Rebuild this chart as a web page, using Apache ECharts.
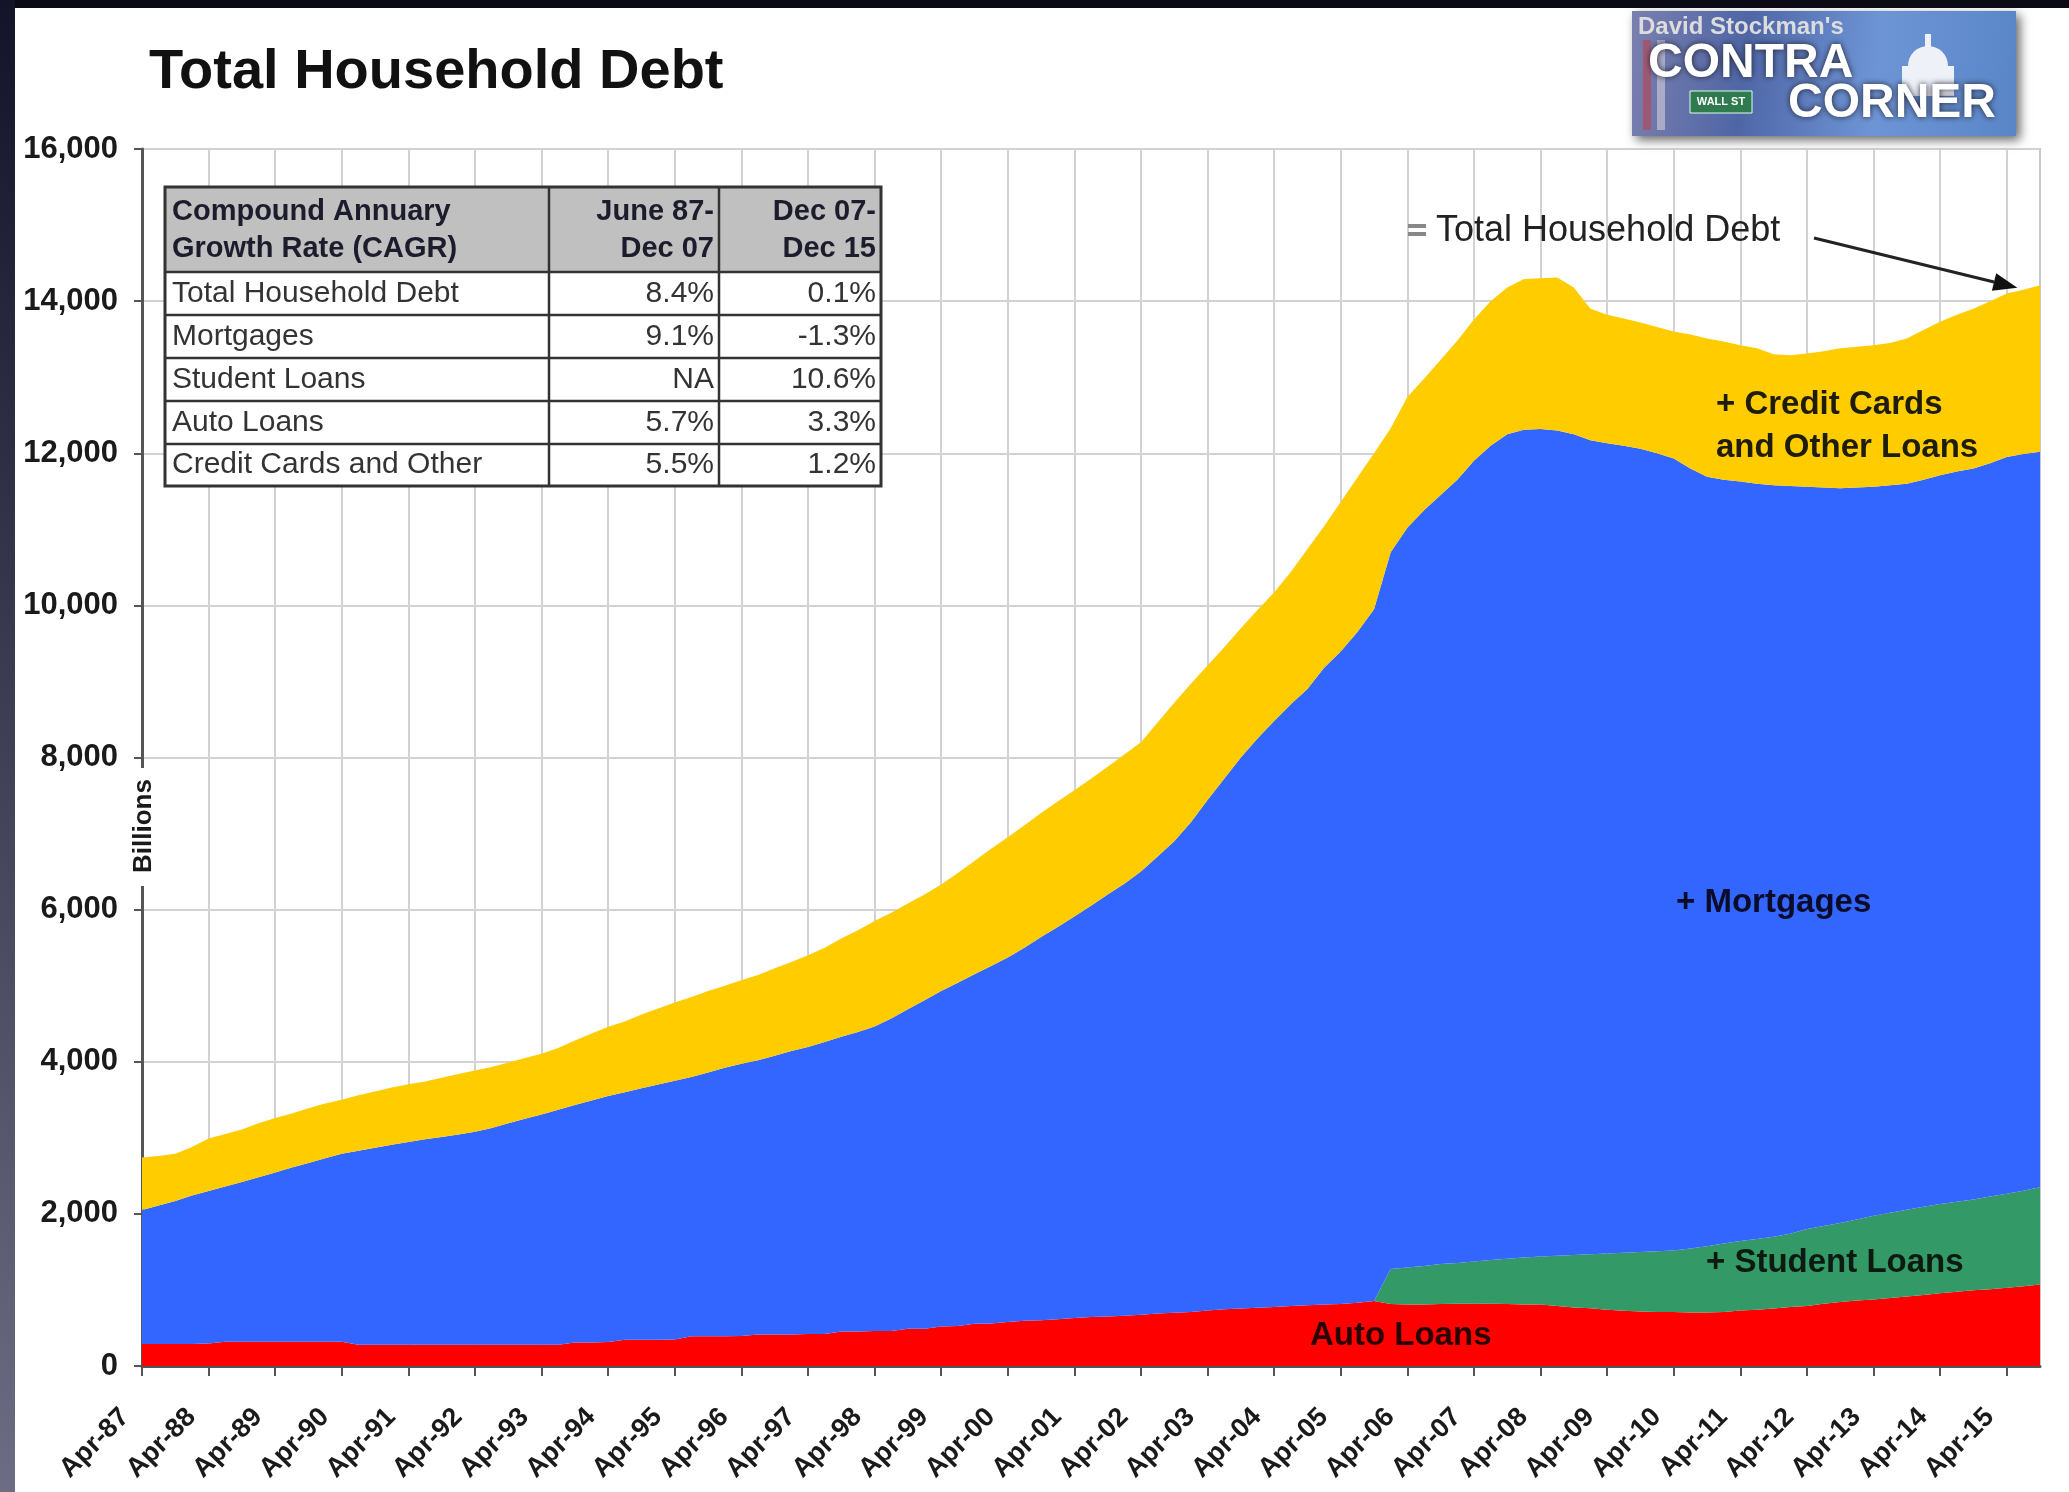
<!DOCTYPE html>
<html>
<head>
<meta charset="utf-8">
<title>Total Household Debt</title>
<script src="https://cdn.jsdelivr.net/npm/echarts@6/dist/echarts.min.js"></script>
<style>
  html, body { margin: 0; padding: 0; background: #fff; }
  #chart { width: 2069px; height: 1492px; }
</style>
</head>
<body>
<div id="chart"></div>
<script>
// quarterly points, Apr-87 .. Oct-15, billions of dollars
var quarterMonths = ['Apr', 'Jul', 'Oct', 'Jan'];
var categories = [];
for (var i = 0; i < 115; i++) {
  var q = i % 4;
  var yr = 1987 + Math.floor(i / 4) + (q === 3 ? 1 : 0);
  categories.push(quarterMonths[q] + '-' + String(yr).slice(2));
}

var autoLoans = [
  290, 290, 290, 290,   295, 320, 320, 320,   320, 320, 320, 320,   320, 280, 280, 280,
  280, 280, 280, 280,   280, 280, 280, 280,   280, 280, 310, 310,   315, 345, 345, 345,
  350, 390, 390, 390,   395, 415, 415, 415,   420, 420, 455, 455,   460, 460, 490, 490,
  520, 525, 555, 560,   580, 595, 600, 615,   630, 645, 650, 660,   675, 690, 700, 710,
  730, 745, 755, 765,   775, 790, 800, 810,   815, 830, 855, 815,   810, 810, 815, 820,
  820, 820, 815, 810,   810, 790, 770, 760,   740, 725, 715, 710,   710, 705, 705, 710,
  730, 740, 755, 775,   790, 820, 840, 860,   875, 895, 915, 935,   955, 975, 995, 1010,
  1030, 1050, 1070
];

var studentLoans = [
  0, 0, 0, 0,   0, 0, 0, 0,   0, 0, 0, 0,   0, 0, 0, 0,
  0, 0, 0, 0,   0, 0, 0, 0,   0, 0, 0, 0,   0, 0, 0, 0,
  0, 0, 0, 0,   0, 0, 0, 0,   0, 0, 0, 0,   0, 0, 0, 0,
  0, 0, 0, 0,   0, 0, 0, 0,   0, 0, 0, 0,   0, 0, 0, 0,
  0, 0, 0, 0,   0, 0, 0, 0,   0, 0, 0, 460,   485, 505, 525, 535,
  555, 575, 595, 615,   630, 660, 690, 710,   740, 765, 785, 800,   810, 840, 870, 900,
  915, 930, 945, 965,   1010, 1020, 1040, 1065,   1100, 1120, 1140, 1160,   1175, 1185, 1195, 1220,
  1235, 1255, 1280
];

var mortgages = [
  1760, 1820, 1880, 1950,   2005, 2040, 2100, 2160,   2225, 2290, 2350, 2410,   2470, 2550, 2590, 2630,
  2665, 2700, 2730, 2765,   2800, 2850, 2910, 2970,   3025, 3090, 3120, 3180,   3235, 3255, 3305, 3355,
  3400, 3410, 3470, 3530,   3580, 3605, 3665, 3725,   3775, 3840, 3875, 3935,   4005, 4110, 4200, 4320,
  4410, 4515, 4595, 4700,   4790, 4905, 5040, 5155,   5280, 5405, 5550, 5680,   5825, 6010, 6200, 6440,
  6710, 6975, 7245, 7485,   7705, 7910, 8100, 8370,   8580, 8820, 9095, 9425,   9725, 9935, 10110, 10295,
  10525, 10705, 10840, 10885,   10880, 10850, 10790, 10700,   10650, 10610, 10560, 10490,   10410, 10255, 10115, 10040,
  9985, 9930, 9880, 9830,   9760, 9710, 9660, 9625,   9585, 9565, 9545, 9555,   9580, 9600, 9610, 9640,
  9685, 9685, 9670
];

var creditCardsOther = [
  690, 650, 620, 640,   690, 690, 690, 710,   715, 710, 720, 720,   710, 730, 740, 750,
  760, 760, 780, 795,   805, 800, 800, 800,   800, 810, 850, 880,   910, 930, 970, 1000,
  1030, 1050, 1070, 1080,   1095, 1120, 1150, 1170,   1205, 1240, 1290, 1340,   1385, 1390, 1390, 1390,
  1400, 1440, 1490, 1540,   1580, 1610, 1630, 1650,   1660, 1670, 1680, 1700,   1700, 1760, 1820, 1820,
  1770, 1730, 1700, 1690,   1690, 1740, 1840, 1860,   1965, 2030, 2050, 1630,   1720, 1730, 1780, 1830,
  1860, 1900, 1930, 1980,   1980, 2010, 1930, 1730,   1690, 1670, 1660, 1660,   1670, 1760, 1820, 1820,
  1790, 1780, 1720, 1720,   1750, 1790, 1840, 1850,   1860, 1870, 1910, 1970,   2020, 2060, 2100, 2130,
  2150, 2160, 2190
];

// CAGR table
var cagrHeader = [['Compound Annuary', 'Growth Rate (CAGR)'], ['June 87-', 'Dec 07'], ['Dec 07-', 'Dec 15']];
var cagrRows = ['Total Household Debt', 'Mortgages', 'Student Loans', 'Auto Loans', 'Credit Cards and Other'];
var cagrEarly = ['8.4%', '9.1%', 'NA', '5.7%', '5.5%'];
var cagrLate = ['0.1%', '-1.3%', '10.6%', '3.3%', '1.2%'];

var FONT = '"Liberation Sans", Arial, sans-serif';
var yearTick = function (idx) { return idx % 4 === 0; };

var chart = echarts.init(document.getElementById('chart'));

function areaSeries(name, data, color) {
  return {
    name: name,
    type: 'line',
    stack: 'debt',
    data: data,
    symbol: 'none',
    silent: true,
    lineStyle: { width: 0 },
    areaStyle: { color: color, opacity: 1 }
  };
}

chart.setOption({
  animation: false,
  backgroundColor: '#fff',
  grid: {
    left: 142, right: 29, top: 149, bottom: 126,
    show: true, borderColor: '#c8c8c8', borderWidth: 2,
    outerBoundsMode: 'none'
  },
  xAxis: {
    type: 'category',
    data: categories,
    boundaryGap: false,
    axisLine: { lineStyle: { color: '#555', width: 3 } },
    axisTick: { interval: yearTick, length: 10, lineStyle: { color: '#555', width: 2 } },
    axisLabel: {
      interval: yearTick, rotate: 45, margin: 30, padding: [0, 24, 0, 0],
      fontFamily: FONT, fontSize: 27, fontWeight: 'bold', color: '#1a1a1a'
    },
    splitLine: { show: true, interval: yearTick, lineStyle: { color: '#d2d2d2', width: 2 } }
  },
  yAxis: {
    type: 'value',
    min: 0, max: 16000, interval: 2000,
    axisLine: { show: true, lineStyle: { color: '#555', width: 3 } },
    axisTick: { show: true, length: 8, lineStyle: { color: '#555', width: 2 } },
    axisLabel: {
      margin: 24, fontFamily: FONT, fontSize: 31, fontWeight: 'bold', color: '#1a1a1a',
      formatter: function (v) { return v.toLocaleString('en-US'); }
    },
    splitLine: { show: true, lineStyle: { color: '#d2d2d2', width: 2 } }
  },
  series: [
    areaSeries('Auto Loans', autoLoans, '#ff0000'),
    areaSeries('Student Loans', studentLoans, '#339966'),
    areaSeries('Mortgages', mortgages, '#3366ff'),
    areaSeries('Credit Cards and Other Loans', creditCardsOther, '#ffcc00')
  ]
});

function txt(x, y, s, size, opt) {
  opt = opt || {};
  return {
    type: 'text', x: x, y: y, z: 100, rotation: opt.rotation || 0,
    style: {
      text: s, x: 0, y: 0,
      font: (opt.weight || 'normal') + ' ' + size + 'px ' + FONT,
      fill: opt.color || '#1a1a1a',
      align: opt.align || 'left',
      verticalAlign: 'middle',
      textShadowBlur: opt.shadow ? 6 : 0,
      textShadowColor: opt.shadow || 'transparent'
    }
  };
}
function rect(x, y, w, h, style) {
  return { type: 'rect', z: 99, shape: { x: x, y: y, width: w, height: h }, style: style };
}
function line(x1, y1, x2, y2, color, width) {
  return { type: 'line', z: 101, shape: { x1: x1, y1: y1, x2: x2, y2: y2 }, style: { stroke: color, lineWidth: width } };
}

var g = [];

// title
g.push(txt(149, 73, 'Total Household Debt', 56, { weight: 'bold', color: '#111' }));

// CAGR table
var tX = [165, 549, 719, 881];
var tY = [187, 272, 315, 358, 401, 444, 486];
g.push(rect(tX[0], tY[0], tX[3] - tX[0], tY[1] - tY[0], { fill: '#c0c0c0' }));
g.push(rect(tX[0], tY[1], tX[3] - tX[0], tY[6] - tY[1], { fill: '#fff' }));
for (var r = 1; r < 6; r++) g.push(line(tX[0], tY[r], tX[3], tY[r], '#333', 2.5));
g.push(line(tX[1], tY[0], tX[1], tY[6], '#333', 2.5));
g.push(line(tX[2], tY[0], tX[2], tY[6], '#333', 2.5));
g.push({ type: 'rect', z: 101, shape: { x: tX[0], y: tY[0], width: tX[3] - tX[0], height: tY[6] - tY[0] },
  style: { fill: 'none', stroke: '#333', lineWidth: 3 } });
var hdr = { weight: 'bold', color: '#1c1c2c' };
g.push(txt(172, 212, cagrHeader[0][0], 29, hdr));
g.push(txt(172, 249, cagrHeader[0][1], 29, hdr));
g.push(txt(714, 212, cagrHeader[1][0], 29, { weight: 'bold', color: '#1c1c2c', align: 'right' }));
g.push(txt(714, 249, cagrHeader[1][1], 29, { weight: 'bold', color: '#1c1c2c', align: 'right' }));
g.push(txt(876, 212, cagrHeader[2][0], 29, { weight: 'bold', color: '#1c1c2c', align: 'right' }));
g.push(txt(876, 249, cagrHeader[2][1], 29, { weight: 'bold', color: '#1c1c2c', align: 'right' }));
cagrRows.forEach(function (name, k) {
  var cy = (tY[k + 1] + tY[k + 2]) / 2;
  g.push(txt(172, cy, name, 30, { color: '#333' }));
  g.push(txt(714, cy, cagrEarly[k], 30, { color: '#333', align: 'right' }));
  g.push(txt(876, cy, cagrLate[k], 30, { color: '#333', align: 'right' }));
});

// axis unit
g.push(rect(131, 768, 26, 118, { fill: '#fff' }));
g.push(txt(144, 826, 'Billions', 26, { weight: 'bold', rotation: Math.PI / 2, align: 'center' }));

// series annotations
g.push(txt(1716, 405, '+ Credit Cards', 33, { weight: 'bold', color: '#1e1c0a' }));
g.push(txt(1716, 448, 'and Other Loans', 33, { weight: 'bold', color: '#1e1c0a' }));
g.push(txt(1676, 903, '+ Mortgages', 33, { weight: 'bold', color: '#0c0c2a' }));
g.push(txt(1706, 1263, '+ Student Loans', 33, { weight: 'bold', color: '#0c1a12' }));
g.push(txt(1310, 1336, 'Auto Loans', 33, { weight: 'bold', color: '#2a0000' }));

// total household debt callout, arrow pointing at the top of the stack
g.push(rect(1408, 224, 18, 4, { fill: '#888' }));
g.push(rect(1408, 232, 18, 4, { fill: '#888' }));
g.push(txt(1436, 231, 'Total Household Debt', 36, { color: '#222' }));
var tipIdx = categories.length - 2;
var tipVal = autoLoans[tipIdx] + studentLoans[tipIdx] + mortgages[tipIdx] + creditCardsOther[tipIdx];
var tip = chart.convertToPixel({ gridIndex: 0 }, [tipIdx, tipVal]);
tip[0] -= 6; tip[1] -= 2;
var from = [1814, 238];
var ang = Math.atan2(tip[1] - from[1], tip[0] - from[0]);
var hl = 24, hw = 9;
var bx = tip[0] - hl * Math.cos(ang), by = tip[1] - hl * Math.sin(ang);
g.push(line(from[0], from[1], bx, by, '#222', 3));
g.push({ type: 'polygon', z: 101, shape: { points: [
  tip,
  [bx + hw * Math.sin(ang), by - hw * Math.cos(ang)],
  [bx - hw * Math.sin(ang), by + hw * Math.cos(ang)]
] }, style: { fill: '#111' } });

// Contra Corner badge
g.push({ type: 'rect', z: 99, shape: { x: 1632, y: 11, width: 384, height: 125 },
  style: {
    fill: new echarts.graphic.LinearGradient(0, 0, 1, 0.3, [
      { offset: 0, color: '#7a7fae' }, { offset: 0.3, color: '#4f66a6' },
      { offset: 0.65, color: '#6d95d6' }, { offset: 1, color: '#5a86c8' }
    ]),
    shadowBlur: 10, shadowColor: 'rgba(0,0,0,0.6)', shadowOffsetX: 4, shadowOffsetY: 4
  } });
g.push(rect(1643, 40, 8, 90, { fill: '#b24a5a', opacity: 0.7 }));
g.push(rect(1657, 40, 8, 90, { fill: '#e8e0e6', opacity: 0.5 }));
g.push({ type: 'circle', z: 100, shape: { cx: 1928, cy: 66, r: 20 }, style: { fill: '#eef2f8' } });
g.push(rect(1902, 66, 52, 30, { fill: '#eef2f8' }));
g.push(rect(1925, 34, 6, 14, { fill: '#eef2f8' }));
g.push(rect(1690, 91, 62, 22, { fill: '#2f7a4e', stroke: '#dfe', lineWidth: 1 }));
g.push(txt(1721, 102, 'WALL ST', 11, { weight: 'bold', color: '#fff', align: 'center' }));
g.push(txt(1638, 27, "David Stockman's", 24, { weight: 'bold', color: '#dcdcdc' }));
g.push(txt(1648, 64, 'CONTRA', 48, { weight: 'bold', color: '#fff', shadow: '#223' }));
g.push(txt(1788, 104, 'CORNER', 48, { weight: 'bold', color: '#fff', shadow: '#223' }));

// dark frame of the screenshot
g.push({ type: 'rect', z: 120, shape: { x: 0, y: 0, width: 2069, height: 8 }, style: { fill: '#0b0b16' } });
g.push({ type: 'rect', z: 120, shape: { x: 0, y: 0, width: 15, height: 1492 },
  style: { fill: new echarts.graphic.LinearGradient(0, 0, 0, 1, [
    { offset: 0, color: '#141428' }, { offset: 1, color: '#6c6c82' }
  ]) } });

chart.setOption({ graphic: { elements: g } });
</script>
</body>
</html>
